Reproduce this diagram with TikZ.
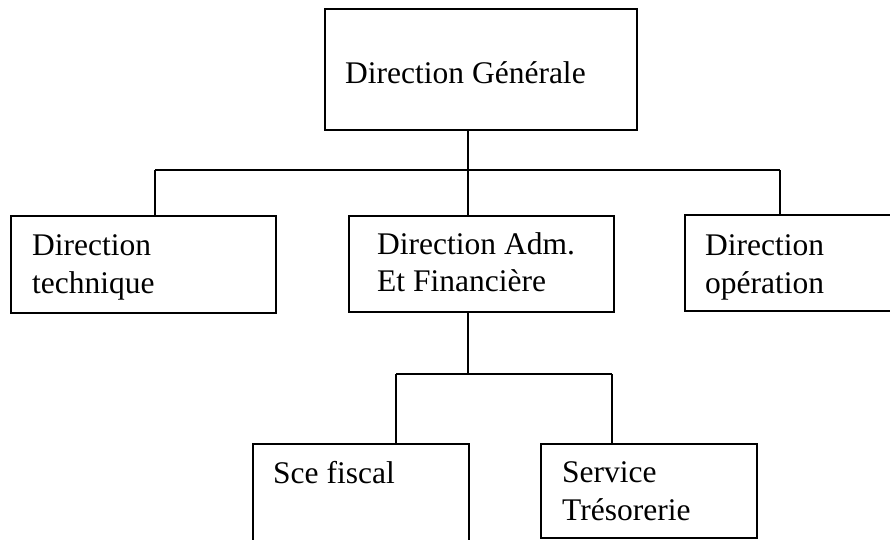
\documentclass[tikz,border=0pt]{standalone}
\usepackage{fontspec}
\setmainfont{Liberation Serif}
\begin{document}
\begin{tikzpicture}[x=1pt,y=-1pt,
  box/.style={draw, line width=1.5pt, inner sep=0pt, anchor=north west},
  conn/.style={line width=1.3pt},
  lbl/.style={anchor=base west, inner sep=0pt, font=\fontsize{31.5}{38}\selectfont}]
\useasboundingbox (0,0) rectangle (890,539);
\clip (0,0) rectangle (890,539);
% boxes
\node[box, minimum width=312pt, minimum height=121pt] (dg) at (324,8) {};
\node[box, minimum width=265pt, minimum height=97pt] (dt) at (10,215) {};
\node[box, minimum width=265pt, minimum height=96pt] (daf) at (348,215) {};
\node[box, minimum width=210pt, minimum height=96pt] (dop) at (684,214) {};
\node[box, minimum width=216pt, minimum height=110pt] (sf) at (252,443) {};
\node[box, minimum width=216pt, minimum height=94pt] (st) at (540,443) {};
% labels
\node[lbl] (tdg) at (345,83) {Direction Générale};
\node[lbl] (tdt1) at (32,255) {Direction};
\node[lbl] (tdt2) at (32,293) {technique};
\node[lbl] (tdaf1) at (377,254) {Direction Adm.};
\node[lbl] (tdaf2) at (377,291) {Et Financière};
\node[lbl] (tdop1) at (705,255) {Direction};
\node[lbl] (tdop2) at (705,293) {opération};
\node[lbl] (tsf) at (273,483) {Sce fiscal};
\node[lbl] (tst1) at (562,482) {Service};
\node[lbl] (tst2) at (562,520) {Trésorerie};
% junctions
\coordinate (hm) at (468,170);
\coordinate (hl) at (155,170);
\coordinate (hr) at (780,170);
\coordinate (bm) at (468,374);
\coordinate (bl) at (396,374);
\coordinate (br) at (612,374);
% connectors
\draw[conn] (dg.south -| hm) -- (hm);
\draw[conn] (hl) -- (hr);
\draw[conn] (hl) -- (hl |- dt.north);
\draw[conn] (hm) -- (hm |- daf.north);
\draw[conn] (hr) -- (hr |- dop.north);
\draw[conn] (daf.south -| bm) -- (bm);
\draw[conn] (bl) -- (br);
\draw[conn] (bl) -- (bl |- sf.north);
\draw[conn] (br) -- (br |- st.north);
\end{tikzpicture}
\end{document}
